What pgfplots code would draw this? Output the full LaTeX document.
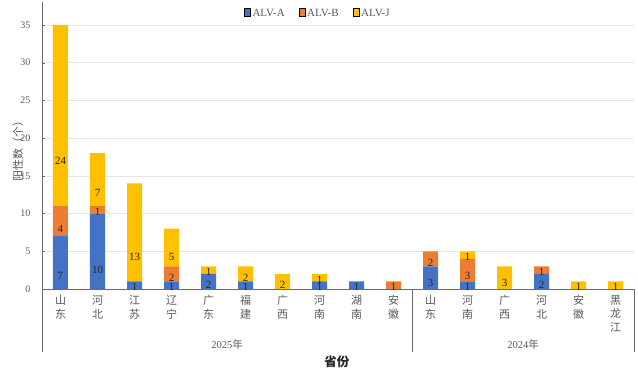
\documentclass[border=0pt]{standalone}
\usepackage{pgfplots}
\pgfplotsset{compat=1.18}
\usepackage{pgfplotstable}
\usepackage{fontspec}
\setmainfont{Liberation Serif}
\newfontfamily\cjk{Noto Sans CJK SC}
\definecolor{cA}{HTML}{4472C4}
\definecolor{cB}{HTML}{ED7D31}
\definecolor{cJ}{HTML}{FFC000}
\definecolor{txt}{HTML}{595959}
\definecolor{gridc}{HTML}{E6E6E6}
\pgfplotstableread{
x A B J
0 7 4 24
1 10 1 7
2 1 0 13
3 1 2 5
4 2 0 1
5 1 0 2
6 0 0 2
7 1 0 1
8 1 0 0
9 0 1 0
10 3 2 0
11 1 3 1
12 0 0 3
13 2 1 0
14 0 0 1
15 0 0 1
}\data
\begin{document}
\begin{tikzpicture}
\useasboundingbox (0,0) rectangle (638pt,371pt);
\begin{axis}[
  at={(42pt,82pt)}, anchor=south west,
  x=37pt, y=7.543pt,
  xmin=-0.5, xmax=15.5, ymin=0, ymax=38,
  ybar stacked, bar width=15pt,
  clip=false,
  axis lines*=left,
  axis line style={draw=txt!90},
  ytick={0,5,...,35},
  xtick={0,...,15},
  xticklabels={{山\\东},{河\\北},{江\\苏},{辽\\宁},{广\\东},{福\\建},{广\\西},{河\\南},{湖\\南},{安\\徽},{山\\东},{河\\南},{广\\西},{河\\北},{安\\徽},{黑\\龙\\江}},
  xtick style={draw=none},
  ytick style={draw=txt!90},
  tick align=inside,
  major tick length=3pt,
  ymajorgrids, grid style={gridc, line width=0.6pt},
  /pgf/number format/assume math mode=true,
  yticklabel style={font=\fontsize{10}{12}\selectfont, text=txt, xshift=-8pt},
  xticklabel style={font=\cjk\fontsize{11}{13.5}\selectfont, text=txt, align=center, anchor=north, yshift=-3pt},
  ylabel={\cjk 阳性数（个）},
  every axis y label/.style={at={(axis description cs:-0.0405,0.49)}, rotate=90, anchor=center, font=\fontsize{11}{13}\selectfont, text=txt},
  xlabel={\cjk\bfseries 省份},
  every axis x label/.style={at={(axis description cs:0.498,-0.255)}, anchor=center, font=\fontsize{12.5}{14}\selectfont, text=black!85},
  legend style={at={(axis description cs:0.466,0.96)}, anchor=center, draw=none, fill=none, legend columns=3, font=\fontsize{11}{13}\selectfont, text=txt, /tikz/every even column/.append style={column sep=12pt}, /tikz/every odd column/.append style={column sep=0pt}},
  ybar legend/.style={legend image code/.code={\fill[##1] (0pt,-2.2pt) rectangle (4.5pt,2.2pt);}},
  visualization depends on=rawy \as \rawy,
  nodes near coords={\ifdim\rawy pt=0pt\else\pgfmathprintnumber{\rawy}\fi},
  every node near coord/.append style={anchor=center, shift={(axis direction cs:0,-\rawy/4)}, font=\fontsize{11}{12}\selectfont, text=black!85, inner sep=0pt},
]
\addplot[fill=cA, draw=none] table[x=x, y=A] {\data};
\addplot[fill=cB, draw=none] table[x=x, y=B] {\data};
\addplot[fill=cJ, draw=none] table[x=x, y=J] {\data};
\legend{ALV-A, ALV-B, ALV-J}
\draw[txt!90] (axis cs:-0.5,0) -- (axis cs:-0.5,-8.35);
\draw[txt!90] (axis cs:9.5,0) -- (axis cs:9.5,-8.35);
\draw[txt!90] (axis cs:15.5,0) -- (axis cs:15.5,-8.35);
\node[text=txt, font=\fontsize{10.5}{12}\selectfont] at (axis cs:4.5,-7.4) {2025{\cjk 年}};
\node[text=txt, font=\fontsize{10.5}{12}\selectfont] at (axis cs:12.5,-7.4) {2024{\cjk 年}};
\end{axis}
\end{tikzpicture}
\end{document}
